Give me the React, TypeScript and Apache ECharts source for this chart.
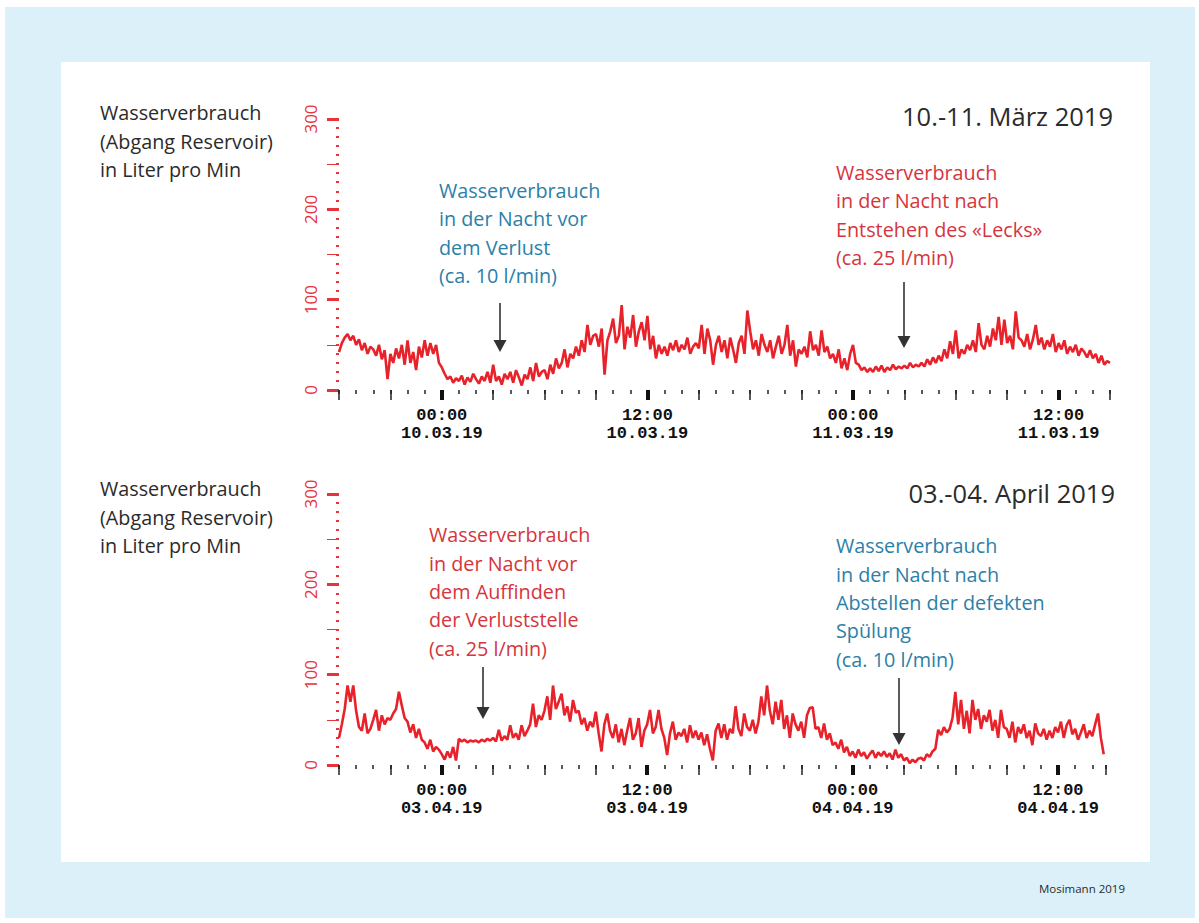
import React, { useEffect, useRef } from "react";
import * as echarts from "echarts";

// 10-minute samples, starting 18:00 of the day before the first night
const STEP_H = 1 / 6;

const marchValues = [
  42, 52, 58, 62, 55, 60, 50, 56, 44, 52, 40, 48, 45, 38, 50, 34, 44, 12,
  40, 30, 46, 35, 50, 28, 55, 30, 42, 22, 48, 36, 55, 38, 52, 40, 50, 30,
  25, 18, 12, 15, 8, 13, 10, 16, 6, 14, 9, 18, 12, 7, 15, 10, 20, 8,
  28, 10, 15, 6, 18, 12, 20, 8, 22, 14, 5, 17, 12, 25, 10, 30, 15, 20,
  22, 12, 28, 18, 35, 24, 30, 45, 25, 40, 35, 48, 38, 55, 42, 72, 50, 60,
  62, 48, 68, 17, 55, 65, 79, 52, 60, 94, 45, 70, 58, 83, 48, 65, 75, 55,
  82, 45, 60, 35, 50, 40, 48, 38, 52, 44, 55, 42, 50, 45, 58, 40, 48, 52,
  46, 72, 40, 68, 55, 28, 50, 60, 42, 55, 35, 58, 45, 30, 52, 60, 40, 88,
  65, 45, 55, 38, 62, 50, 42, 55, 35, 48, 60, 40, 50, 72, 38, 55, 26, 45,
  40, 48, 36, 65, 44, 50, 38, 66, 42, 48, 35, 40, 30, 45, 24, 35, 22, 40,
  50, 30, 28, 22, 25, 20, 24, 20, 26, 21, 27, 20, 25, 22, 28, 23, 26, 24,
  27, 24, 30, 25, 28, 26, 30, 26, 34, 28, 36, 30, 38, 32, 45, 35, 54, 40,
  66, 35, 45, 40, 50, 44, 55, 42, 74, 50, 45, 60, 48, 68, 55, 81, 50, 78,
  52, 60, 45, 87, 58, 55, 48, 62, 45, 56, 72, 50, 58, 45, 55, 48, 62, 42,
  52, 45, 55, 40, 48, 42, 50, 38, 46, 42, 36, 44, 35, 40, 30, 38, 28, 32,
  30,
];

const aprilValues = [
  30, 45, 62, 88, 70, 88, 60, 42, 38, 57, 35, 40, 50, 61, 38, 55, 45, 52,
  50, 57, 62, 81, 66, 52, 48, 36, 45, 30, 40, 28, 25, 18, 28, 15, 20, 17,
  12, 6, 15, 8, 20, 5, 29, 26, 28, 25, 27, 26, 27, 25, 28, 26, 29, 27,
  30, 26, 39, 27, 32, 28, 44, 30, 35, 28, 44, 32, 38, 45, 68, 42, 55, 50,
  60, 76, 50, 88, 62, 70, 79, 55, 65, 48, 72, 58, 60, 45, 52, 38, 48, 42,
  59, 35, 15, 45, 57, 38, 30, 45, 25, 40, 22, 38, 52, 28, 35, 52, 20, 38,
  45, 61, 35, 42, 61, 40, 30, 11, 35, 48, 28, 36, 32, 40, 25, 44, 30, 38,
  28, 36, 22, 34, 18, 5, 38, 46, 30, 45, 28, 40, 35, 65, 40, 32, 57, 42,
  38, 50, 35, 48, 76, 55, 88, 60, 45, 70, 50, 72, 40, 55, 30, 57, 45, 38,
  48, 30, 55, 63, 64, 40, 42, 30, 46, 28, 35, 22, 25, 18, 28, 14, 20, 10,
  15, 8, 17, 10, 14, 7, 12, 16, 8, 14, 10, 15, 9, 13, 6, 17, 8, 12,
  5, 8, 2, 6, 3, 7, 8, 5, 12, 9, 15, 18, 39, 33, 42, 36, 40, 52,
  81, 45, 72, 40, 60, 35, 72, 50, 62, 40, 55, 48, 61, 38, 50, 30, 61, 42,
  40, 30, 48, 25, 42, 35, 45, 30, 38, 22, 46, 35, 32, 40, 28, 38, 30, 42,
  36, 48, 30, 44, 50, 34, 40, 28, 36, 45, 30, 38, 32, 45, 57, 30, 12,
];

const majorTickHours = [6, 18, 30, 42];
const marchTickLabels = ["00:00\n10.03.19", "12:00\n10.03.19", "00:00\n11.03.19", "12:00\n11.03.19"];
const aprilTickLabels = ["00:00\n03.04.19", "12:00\n03.04.19", "00:00\n04.04.19", "12:00\n04.04.19"];
const marchMaxHour = 45;
const aprilMaxHour = 44.8;

const yMin = 0;
const yMax = 300;

const RED_AXIS = "#e8333b";
const RED_LINE = "#e8222a";
const BLUE_TXT = "#2b80a8";
const RED_TXT = "#d5353c";
const DARK = "#2b2b2b";
const SANS = '"Open Sans", "Noto Sans", sans-serif';
const MONO = '"Liberation Mono", "DejaVu Sans Mono", monospace';

function buildAxes(gridIndex: number, maxHour: number, labels: string[]) {
  const xAxes = [
    {
      gridIndex, type: "value", position: "bottom", min: 0, max: maxHour, interval: 1,
      axisLine: { show: false },
      axisTick: { show: true, length: 4, lineStyle: { color: "#222", width: 1.5 } },
      axisLabel: { show: false }, splitLine: { show: false },
    },
    {
      gridIndex, type: "value", position: "bottom", min: 0, max: maxHour, interval: 3,
      axisLine: { show: false },
      axisTick: { show: true, length: 10, lineStyle: { color: "#222", width: 1.5 } },
      axisLabel: { show: false }, splitLine: { show: false },
    },
    {
      gridIndex, type: "value", position: "bottom", min: 0, max: maxHour, offset: 8,
      axisLine: { show: false },
      axisTick: { show: true, customValues: majorTickHours, length: 10, lineStyle: { color: "#111", width: 4 } },
      axisLabel: {
        show: true, customValues: majorTickHours, margin: 8,
        formatter: (v: number) => {
          const k = majorTickHours.indexOf(Math.round(v));
          return k >= 0 ? labels[k] : "";
        },
        fontFamily: MONO, fontSize: 17, lineHeight: 18, color: "#111", fontWeight: "bold",
      },
      splitLine: { show: false },
    },
  ];
  const yAxes = [
    {
      gridIndex, type: "value", min: yMin, max: yMax, interval: 100, position: "left", offset: 6,
      axisLine: { show: false },
      axisTick: { show: true, length: 12, lineStyle: { color: RED_AXIS, width: 3 } },
      axisLabel: { show: true, rotate: 90, margin: 14, color: RED_AXIS, fontSize: 17, fontFamily: SANS },
      splitLine: { show: false },
    },
    {
      gridIndex, type: "value", min: yMin, max: yMax, interval: 50, position: "left", offset: 6,
      axisLine: { show: false },
      axisTick: { show: true, length: 12, lineStyle: { color: RED_AXIS, width: 1 } },
      axisLabel: { show: false }, splitLine: { show: false },
    },
    {
      gridIndex, type: "value", min: yMin, max: yMax, interval: 10, position: "left", offset: 6,
      axisLine: { show: false },
      axisTick: { show: true, length: 3, lineStyle: { color: RED_AXIS, width: 2 } },
      axisLabel: { show: false }, splitLine: { show: false },
    },
  ];
  return { xAxes, yAxes };
}

function textEl(x: number, yFirstCenter: number, text: string, fill: string, size = 19.8, lh = 28.3) {
  return {
    type: "text", x, y: yFirstCenter - lh / 2, z: 5,
    style: { text, fill, font: `${size}px ${SANS}`, lineHeight: lh, verticalAlign: "top", align: "left" },
  };
}

function arrowEls(x: number, y1: number, yTip: number) {
  return [
    { type: "line", z: 5, shape: { x1: x, y1, x2: x, y2: yTip - 10 }, style: { stroke: "#333", lineWidth: 1.6 } },
    { type: "polygon", z: 5, shape: { points: [[x - 6.5, yTip - 12], [x + 6.5, yTip - 12], [x, yTip]] }, style: { fill: "#333" } },
  ];
}

export default function App() {
  const ref = useRef<HTMLDivElement>(null);
  useEffect(() => {
    if (!ref.current) return;
    const chart = echarts.init(ref.current, undefined, { renderer: "svg" });
    const top = buildAxes(0, marchMaxHour, marchTickLabels);
    const bot = buildAxes(1, aprilMaxHour, aprilTickLabels);
    const option: any = {
      animation: false,
      backgroundColor: "#ffffff",
      grid: [
        { left: 339, right: 89, top: 119, height: 271 },
        { left: 339, right: 93, top: 494, height: 271 },
      ],
      xAxis: [...top.xAxes, ...bot.xAxes],
      yAxis: [...top.yAxes, ...bot.yAxes],
      series: [
        {
          type: "line", xAxisIndex: 0, yAxisIndex: 0, showSymbol: false, silent: true,
          data: marchValues.map((v, i) => [i * STEP_H, v]),
          lineStyle: { color: RED_LINE, width: 2.6 },
        },
        {
          type: "line", xAxisIndex: 3, yAxisIndex: 3, showSymbol: false, silent: true,
          data: aprilValues.map((v, i) => [i * STEP_H, v]),
          lineStyle: { color: RED_LINE, width: 2.6 },
        },
      ],
      graphic: {
        elements: [
          { type: "rect", z: -10, shape: { x: 5, y: 7, width: 1190, height: 911 }, style: { fill: "#dcf0f9" } },
          { type: "rect", z: -9, shape: { x: 61, y: 62, width: 1089, height: 800 }, style: { fill: "#ffffff" } },
          textEl(100, 113, "Wasserverbrauch\n(Abgang Reservoir)\nin Liter pro Min", DARK),
          textEl(100, 489, "Wasserverbrauch\n(Abgang Reservoir)\nin Liter pro Min", DARK),
          {
            type: "text", x: 1113, y: 116, z: 5,
            style: { text: "10.-11. März 2019", fill: DARK, font: `25.5px ${SANS}`, align: "right", verticalAlign: "middle" },
          },
          {
            type: "text", x: 1115, y: 493, z: 5,
            style: { text: "03.-04. April 2019", fill: DARK, font: `25.5px ${SANS}`, align: "right", verticalAlign: "middle" },
          },
          textEl(439, 190.7, "Wasserverbrauch\nin der Nacht vor\ndem Verlust\n(ca. 10 l/min)", BLUE_TXT),
          textEl(836, 172.7, "Wasserverbrauch\nin der Nacht nach\nEntstehen des «Lecks»\n(ca. 25 l/min)", RED_TXT),
          textEl(429, 535, "Wasserverbrauch\nin der Nacht vor\ndem Auffinden\nder Verluststelle\n(ca. 25 l/min)", RED_TXT),
          textEl(836, 546, "Wasserverbrauch\nin der Nacht nach\nAbstellen der defekten\nSpülung\n(ca. 10 l/min)", BLUE_TXT),
          ...arrowEls(500, 303, 352),
          ...arrowEls(904, 282, 348),
          ...arrowEls(483, 667, 719),
          ...arrowEls(899, 678, 745),
          {
            type: "text", x: 1125, y: 888, z: 5,
            style: { text: "Mosimann 2019", fill: DARK, font: `11.5px ${SANS}`, align: "right", verticalAlign: "middle" },
          },
        ],
      },
    };
    chart.setOption(option);
    return () => chart.dispose();
  }, []);
  return <div ref={ref} style={{ position: "fixed", left: 0, top: 0, width: 1199, height: 923 }} />;
}
